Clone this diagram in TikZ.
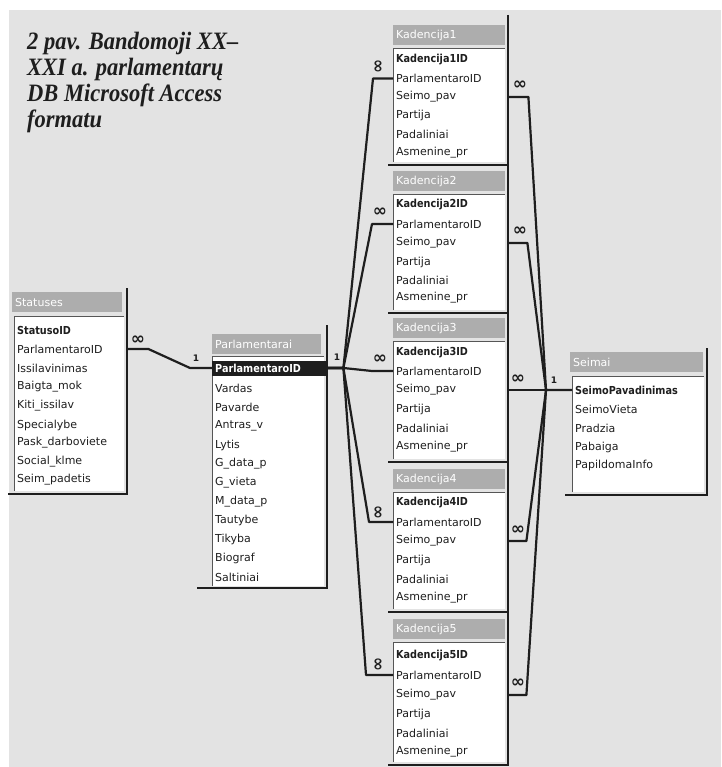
\documentclass[tikz,border=0pt]{standalone}
\usepackage{fontspec}
\newfontfamily\tabfont{DejaVu Sans}
\newfontfamily\capfont{Liberation Serif}
\usetikzlibrary{calc}
\definecolor{bg}{HTML}{E3E3E3}
\definecolor{hdr}{HTML}{ADADAD}
\definecolor{ink}{HTML}{1E1E1E}
\newcommand{\bsq}[1]{\scalebox{0.88}[1]{\bfseries #1}}
\tikzset{
  fld/.style={anchor=west, inner xsep=3pt, inner ysep=0pt, minimum height=14pt,
    align=left, font=\tabfont\fontsize{11}{12}\selectfont, text=ink},
  wS/.style={text width=107pt},
  wP/.style={text width=109pt},
  wK/.style={text width=109pt},
  wM/.style={text width=129pt},
  hd/.style={anchor=west, fill=hdr, text=white, inner xsep=3pt, inner ysep=0pt,
    minimum height=20pt, align=left, font=\tabfont\fontsize{11}{12}\selectfont},
  frm/.style={line width=2.6pt, draw=ink},
  thinb/.style={line width=0.8pt, draw=ink!75},
  conn/.style={line width=2.2pt, draw=ink, line join=round},
  inf/.style={font=\tabfont\bfseries\fontsize{17}{17}\selectfont, text=ink, inner sep=0pt},
  one/.style={font=\tabfont\bfseries\fontsize{9}{9}\selectfont, text=ink, inner sep=0pt},
}
\begin{document}
\begin{tikzpicture}[x=1pt,y=-1pt]
\useasboundingbox (0,0) rectangle (721,767);
\fill[white] (0,0) rectangle (721,767);
\fill[bg] (9,10) rectangle (721,767);

% caption
\node[anchor=north west, inner sep=0pt, align=left,
  font=\capfont\bfseries\itshape\fontsize{25}{26}\selectfont, text=ink] (cap) at (27,32)
  {\scalebox{0.9}[1]{2 pav. Bandomoji XX–}\\
   \scalebox{0.9}[1]{XXI a. parlamentarų}\\
   \scalebox{0.9}[1]{DB Microsoft Access}\\
   \scalebox{0.9}[1]{formatu}};

% ---------- Statuses ----------
\fill[white] (14,316) rectangle (124,491);
\draw[thinb] (14,491) -- (14,316) -- (124,316);
\node[hd, text width=104pt] (sth) at (12,302) {Statuses};
\node[fld,wS] (s1) at (14,330) {\bsq{StatusoID}};
\node[fld,wS] (s2) at (14,349) {ParlamentaroID};
\node[fld,wS] (s3) at (14,368) {Issilavinimas};
\node[fld,wS] (s4) at (14,387) {Baigta\_mok};
\node[fld,wS] (s5) at (14,406) {Kiti\_issilav};
\node[fld,wS] (s6) at (14,425) {Specialybe};
\node[fld,wS] (s7) at (14,443) {Pask\_darboviete};
\node[fld,wS] (s8) at (14,462) {Social\_klme};
\node[fld,wS] (s9) at (14,480) {Seim\_padetis};
\draw[frm] (127,288) -- (127,494) -- (8,494);

% ---------- Parlamentarai ----------
\fill[white] (212,356) rectangle (324,586);
\draw[thinb] (212,586) -- (212,356) -- (324,356);
\node[hd, text width=103pt] (ph) at (212,344) {Parlamentarai};
\node[fld,wP, fill=ink, text=white, minimum height=15pt] (p1) at (212,368) {\bsq{ParlamentaroID}};
\node[fld,wP] (p2) at (212,388) {Vardas};
\node[fld,wP] (p3) at (212,407) {Pavarde};
\node[fld,wP] (p4) at (212,426) {Antras\_v};
\node[fld,wP] (p5) at (212,445) {Lytis};
\node[fld,wP] (p6) at (212,464) {G\_data\_p};
\node[fld,wP] (p7) at (212,483) {G\_vieta};
\node[fld,wP] (p8) at (212,502) {M\_data\_p};
\node[fld,wP] (p9) at (212,520) {Tautybe};
\node[fld,wP] (p10) at (212,539) {Tikyba};
\node[fld,wP] (p11) at (212,558) {Biograf};
\node[fld,wP] (p12) at (212,577) {Saltiniai};
\draw[frm] (327,325) -- (327,588) -- (197,588);

% ---------- Kadencija tables ----------
% K1
\fill[white] (393,48) rectangle (505,162);
\draw[thinb] (393,162) -- (393,48) -- (505,48);
\node[hd, text width=106pt] (k1h) at (393,35) {Kadencija1};
\node[fld,wK] (k1a) at (393,60) {\bsq{Kadencija1ID}};
\node[fld,wK] (k1b) at (393,78.5) {ParlamentaroID};
\node[fld,wK] (k1c) at (393,97) {Seimo\_pav};
\node[fld,wK] (k1d) at (393,115.5) {Partija};
\node[fld,wK] (k1e) at (393,134) {Padaliniai};
\node[fld,wK] (k1f) at (393,152.5) {Asmenine\_pr};
\draw[frm] (388,165) -- (508,165);
% K2
\fill[white] (393,194) rectangle (505,310);
\draw[thinb] (393,310) -- (393,194) -- (505,194);
\node[hd, text width=106pt] (k2h) at (393,181) {Kadencija2};
\node[fld,wK] (k2a) at (393,205) {\bsq{Kadencija2ID}};
\node[fld,wK] (k2b) at (393,224) {ParlamentaroID};
\node[fld,wK] (k2c) at (393,243) {Seimo\_pav};
\node[fld,wK] (k2d) at (393,262) {Partija};
\node[fld,wK] (k2e) at (393,280) {Padaliniai};
\node[fld,wK] (k2f) at (393,298) {Asmenine\_pr};
\draw[frm] (388,313) -- (508,313);
% K3
\fill[white] (393,341) rectangle (505,459);
\draw[thinb] (393,459) -- (393,341) -- (505,341);
\node[hd, text width=106pt] (k3h) at (393,328) {Kadencija3};
\node[fld,wK] (k3a) at (393,353) {\bsq{Kadencija3ID}};
\node[fld,wK] (k3b) at (393,371) {ParlamentaroID};
\node[fld,wK] (k3c) at (393,390) {Seimo\_pav};
\node[fld,wK] (k3d) at (393,409) {Partija};
\node[fld,wK] (k3e) at (393,428) {Padaliniai};
\node[fld,wK] (k3f) at (393,447) {Asmenine\_pr};
\draw[frm] (388,462) -- (508,462);
% K4
\fill[white] (393,492) rectangle (505,609);
\draw[thinb] (393,609) -- (393,492) -- (505,492);
\node[hd, text width=106pt] (k4h) at (393,479) {Kadencija4};
\node[fld,wK] (k4a) at (393,503) {\bsq{Kadencija4ID}};
\node[fld,wK] (k4b) at (393,522) {ParlamentaroID};
\node[fld,wK] (k4c) at (393,541) {Seimo\_pav};
\node[fld,wK] (k4d) at (393,560) {Partija};
\node[fld,wK] (k4e) at (393,579) {Padaliniai};
\node[fld,wK] (k4f) at (393,598) {Asmenine\_pr};
\draw[frm] (388,612) -- (508,612);
% K5
\fill[white] (393,642) rectangle (505,762);
\draw[thinb] (393,762) -- (393,642) -- (505,642);
\node[hd, text width=106pt] (k5h) at (393,629) {Kadencija5};
\node[fld,wK] (k5a) at (393,656) {\bsq{Kadencija5ID}};
\node[fld,wK] (k5b) at (393,675) {ParlamentaroID};
\node[fld,wK] (k5c) at (393,695) {Seimo\_pav};
\node[fld,wK] (k5d) at (393,714) {Partija};
\node[fld,wK] (k5e) at (393,733) {Padaliniai};
\node[fld,wK] (k5f) at (393,752) {Asmenine\_pr};
\draw[frm] (388,765) -- (508,765);
\draw[frm] (508,15) -- (508,766);

% ---------- Seimai ----------
\fill[white] (572,376) rectangle (704,492);
\draw[thinb] (572,492) -- (572,376) -- (704,376);
\node[hd, text width=127pt] (mh) at (570,362) {Seimai};
\node[fld,wM] (m1) at (572,390) {\bsq{SeimoPavadinimas}};
\node[fld,wM] (m2) at (572,409) {SeimoVieta};
\node[fld,wM] (m3) at (572,428) {Pradzia};
\node[fld,wM] (m4) at (572,447) {Pabaiga};
\node[fld,wM] (m5) at (572,465) {PapildomaInfo};
\draw[frm] (707,348) -- (707,495) -- (565,495);

% ---------- connectors ----------
\draw[conn] (s2.east) -- ++(21,0) -- ($(p1.west)+(-22,0)$) -- (p1.west);
\node[inf] (i0) at (138,340) {∞};
\node[one] (o0) at (196,358) {1};

\draw[conn] (p1.east) -- ++(16,0) -- ($(k1b.west)+(-20,0)$) -- (k1b.west);
\draw[conn] (p1.east) -- ++(16,0) -- ($(k2b.west)+(-21,0)$) -- (k2b.west);
\draw[conn] (p1.east) -- ++(16,0) -- ($(k3b.west)+(-21,0)$) -- (k3b.west);
\draw[conn] (p1.east) -- ++(16,0) -- ($(k4b.west)+(-24,0)$) -- (k4b.west);
\draw[conn] (p1.east) -- ++(16,0) -- ($(k5b.west)+(-27,0)$) -- (k5b.west);
\node[one] (o1) at (337,357) {1};
\node[inf, rotate=90] (i1) at (379,66) {∞};
\node[inf] (i2) at (380,212) {∞};
\node[inf] (i3) at (380,359) {∞};
\node[inf, rotate=90] (i4) at (379,512) {∞};
\node[inf, rotate=90] (i5) at (379,664) {∞};

\draw[conn] (k1c.east) -- ++(20,0) -- ($(m1.west)+(-26,0)$) -- (m1.west);
\draw[conn] (k2c.east) -- ++(19,0) -- ($(m1.west)+(-26,0)$);
\draw[conn] (k3c.east) -- (m1.west);
\draw[conn] (k4c.east) -- ++(18,0) -- ($(m1.west)+(-26,0)$);
\draw[conn] (k5c.east) -- ++(18,0) -- ($(m1.west)+(-26,0)$);
\node[inf] (j1) at (520,85) {∞};
\node[inf] (j2) at (520,231) {∞};
\node[inf] (j3) at (518,379) {∞};
\node[inf] (j4) at (518,530) {∞};
\node[inf] (j5) at (518,683) {∞};
\node[one] (o2) at (554,380) {1};
\end{tikzpicture}
\end{document}
